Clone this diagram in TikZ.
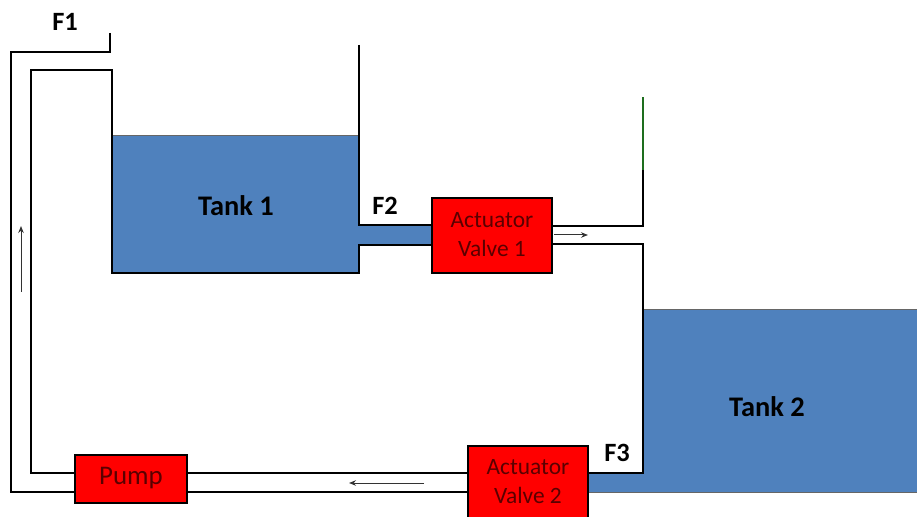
\documentclass[tikz,border=0pt]{standalone}
\usepackage{fontspec}
\setmainfont{Carlito}
\usetikzlibrary{arrows.meta}
\definecolor{water}{RGB}{79,129,189}
\definecolor{valvered}{RGB}{255,0,0}
\definecolor{valvetext}{RGB}{90,0,0}
\definecolor{darkgreen}{RGB}{30,110,30}
\tikzset{
  wall/.style={line width=1.9bp, black, line join=miter},
  fillwater/.style={fill=water, draw=none},
  flow/.style={line width=1bp, black!80, -{Stealth[length=7bp,width=5.5bp]}},
  device/.style={draw=black, line width=1.9bp, fill=valvered, inner sep=0pt},
  devtext/.style={text=valvetext, align=center, inner sep=0pt, font=\fontsize{23.5}{29}\selectfont},
  lbl/.style={font=\bfseries\fontsize{26.5}{30}\selectfont, inner sep=0pt},
  tanklbl/.style={font=\bfseries\fontsize{28.5}{32}\selectfont, inner sep=0pt}
}
\begin{document}
\begin{tikzpicture}[x=1bp,y=-1bp]
\useasboundingbox (0,0) rectangle (917,517);
\begin{scope}
\clip (0,0) rectangle (917,517);
% water fills
\fill[fillwater] (112,135) rectangle (359,273);
\fill[fillwater] (359,225) rectangle (440,245);
\fill[fillwater] (643,309) rectangle (917,492);
\fill[fillwater] (580,473) rectangle (643,492);
\draw[black!60, line width=0.6bp] (112,135) -- (359,135);
\draw[black!60, line width=0.6bp] (643,309) -- (917,309);
\draw[black!60, line width=0.8bp] (588,492) -- (917,492);

% devices
\node[device, minimum width=120bp, minimum height=75bp] (v1) at (492,235.5) {};
\node[devtext] (v1t) at (492,235) {Actuator\\Valve 1};
\node[device, minimum width=120bp, minimum height=80bp] (v2) at (528,486) {};
\node[devtext] (v2t) at (528,482) {Actuator\\Valve 2};
\node[device, minimum width=112bp, minimum height=48bp] (pump) at (131,479) {};
\node[devtext, font=\fontsize{27}{30}\selectfont] (pumpt) at (131,478) {Pump};

% loop: outer pipe wall
\coordinate (o1) at (110,33);
\draw[wall] (o1) -- (110,52) -- (11,52) -- (11,492) -- (pump.west |- 0,492);
% inner pipe wall and tank 1
\draw[wall] (pump.west |- 0,473) -- (31,473) -- (31,70) -- (112,70) -- (112,273) -- (359,273) -- (359,245) -- (v1.west |- 0,245);
\draw[wall] (359,45) -- (359,225) -- (v1.west |- 0,225);
% valve 1 to tank 2
\draw[wall] (v1.east |- 0,226) -- (643,226) -- (643,170);
\draw[line width=1.9bp, darkgreen] (643,170) -- (643,97);
\draw[wall] (v1.east |- 0,244) -- (643,244) -- (643,473) -- (v2.east |- 0,473);
% bottom pipe
\draw[wall] (v2.west |- 0,473) -- (pump.east |- 0,473);
\draw[wall] (v2.west |- 0,492) -- (pump.east |- 0,492);

% flow arrows
\coordinate (a1s) at (21,292);
\coordinate (a1e) at (21,226);
\draw[flow] (a1s) -- (a1e);
\coordinate (a2s) at (554,235);
\coordinate (a2e) at (588,235);
\draw[flow] (a2s) -- (a2e);
\coordinate (a3s) at (424,483);
\coordinate (a3e) at (349,483);
\draw[flow] (a3s) -- (a3e);
\end{scope}

% labels
\node[lbl] (f1) at (65,22) {F1};
\node[lbl] (f2) at (385,206) {F2};
\node[lbl] (f3) at (617,453) {F3};
\node[tanklbl] (t1) at (236,206) {Tank 1};
\node[tanklbl] (t2) at (767,407) {Tank 2};
\end{tikzpicture}
\end{document}
